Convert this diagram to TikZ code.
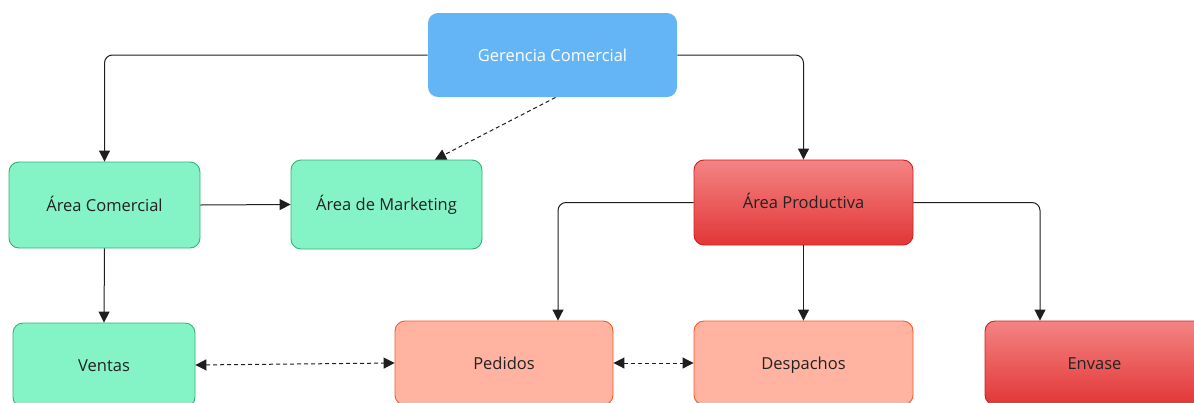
\documentclass[tikz,border=0pt]{standalone}
\usepackage{fontspec}
\setmainfont{Open Sans}
\usetikzlibrary{arrows.meta}
\definecolor{gblue}{RGB}{100,181,246}
\definecolor{ggreen}{RGB}{132,244,198}
\definecolor{ggreenb}{RGB}{52,178,120}
\definecolor{rtop}{RGB}{244,132,132}
\definecolor{rbot}{RGB}{226,54,54}
\definecolor{rbord}{RGB}{214,28,28}
\definecolor{salmon}{RGB}{255,179,160}
\definecolor{salmonb}{RGB}{255,87,34}
\definecolor{txt}{RGB}{34,34,34}
\definecolor{ln}{RGB}{30,30,30}
\begin{document}
\begin{tikzpicture}[x=1pt,y=-1pt,
  box/.style={rectangle,rounded corners=10pt,inner sep=0pt,font=\fontsize{16.5}{19}\selectfont,text=txt,line width=0.9pt,text height=14pt,text depth=1.5pt},
  bluebox/.style={box,fill=gblue,text=white},
  greenbox/.style={box,fill=ggreen,draw=ggreenb},
  redbox/.style={box,top color=rtop,bottom color=rbot,draw=rbord},
  salbox/.style={box,fill=salmon,draw=salmonb},
  conn/.style={draw=ln,line width=1pt,rounded corners=8pt,-{Triangle[width=11pt,length=11pt]}},
  dconn/.style={draw=ln,line width=1pt,dash pattern=on 4pt off 3pt,-{Triangle[width=11pt,length=11pt]}},
  ddconn/.style={dconn,{Triangle[width=11pt,length=11pt]}-{Triangle[width=11pt,length=11pt]}}]
\useasboundingbox (0,0) rectangle (1194,402);
\clip (0,0) rectangle (1194,402);
\node[bluebox,minimum width=249pt,minimum height=84pt] (ger) at (552.5,55) {Gerencia Comercial};
\node[greenbox,minimum width=191pt,minimum height=86pt] (acom) at (104.5,205) {Área Comercial};
\node[greenbox,minimum width=191pt,minimum height=89pt] (mkt) at (386.5,204.5) {Área de Marketing};
\node[redbox,minimum width=219pt,minimum height=85pt] (aprod) at (803.5,202.5) {Área Productiva};
\node[greenbox,minimum width=182pt,minimum height=84pt] (ven) at (104,365) {Ventas};
\node[salbox,minimum width=218pt,minimum height=84pt] (ped) at (504,363) {Pedidos};
\node[salbox,minimum width=219pt,minimum height=84pt] (des) at (803.5,363) {Despachos};
\node[redbox,minimum width=219pt,minimum height=84pt] (env) at (1094.5,363) {Envase};
% connectors
\draw[conn] (ger.west) -| (acom.north);
\draw[conn] (ger.east) -| (aprod.north);
\draw[dconn] ([xshift=3pt]ger.south) -- ([xshift=48.5pt]mkt.north);
\draw[conn] (acom.east) -- (mkt.west);
\draw[conn] (acom.south) -- (ven.north);
\draw[conn] (aprod.west) -| ([xshift=54pt]ped.north);
\draw[conn] (aprod.south) -- (des.north);
\draw[conn] (aprod.east) -| ([xshift=-54.5pt]env.north);
\draw[ddconn] (ven.east) -- (ped.west);
\draw[ddconn] (ped.east) -- (des.west);
\end{tikzpicture}
\end{document}
